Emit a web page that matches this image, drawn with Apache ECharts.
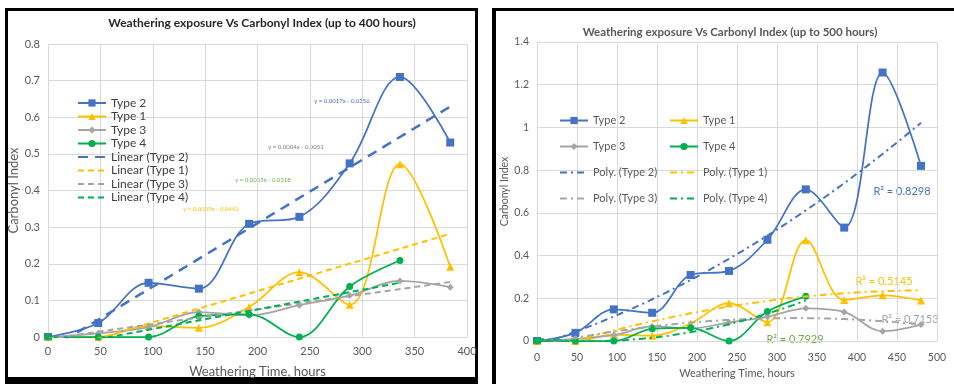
<!DOCTYPE html>
<html>
<head>
<meta charset="utf-8">
<script src="https://cdn.jsdelivr.net/npm/echarts@6/dist/echarts.min.js"></script>
<style>
  html, body { margin: 0; padding: 0; background: #fff; }
  #c { width: 954px; height: 384px; }
</style>
</head>
<body>
<div id="c"></div>
<script>
// Weathering time (hours) for each sample
const hours = [0, 48, 96, 144, 192, 240, 288, 336, 384, 432, 480];
// Carbonyl index per material type
const type2 = [0, 0.038, 0.148, 0.132, 0.309, 0.328, 0.474, 0.710, 0.531, 1.257, 0.820];
const type1 = [0, 0, 0.030, 0.025, 0.082, 0.177, 0.088, 0.472, 0.192, 0.214, 0.190];
const type3 = [0, 0.010, 0.027, 0.068, 0.059, 0.087, 0.113, 0.153, 0.136, 0.046, 0.077];
const type4 = [0, 0, 0, 0.057, 0.062, 0, 0.138, 0.209];

const titleShort = 'Weathering exposure Vs Carbonyl Index (up to 400 hours)';
const titleLong = 'Weathering exposure Vs Carbonyl Index (up to 500 hours)';
const xName = 'Weathering Time, hours';
const yName = 'Carbonyl Index';
const linearEq = ['y = 0.0017x - 0.0356', 'y = 0.0009x - 0.0441', 'y = 0.0004x - 0.0051', 'y = 0.0005x - 0.0318'];
const polyR2 = ['R\u00b2 = 0.8298', 'R\u00b2 = 0.5145', 'R\u00b2 = 0.7153', 'R\u00b2 = 0.7929'];

const shortCount = 9; // samples up to 384 h go into the first chart

const FONT = 'Lato, "Noto Sans", sans-serif';
const C2 = '#4472C4', C1 = '#FFC000', C3 = '#A5A5A5', C4 = '#00B050';

function pairs(ys, n) {
  return ys.slice(0, Math.min(n, ys.length)).map((y, i) => [hours[i], y]);
}

// least-squares straight line over the data range
function linearTrend(pts) {
  const n = pts.length;
  let mx = 0, my = 0;
  pts.forEach(p => { mx += p[0]; my += p[1]; });
  mx /= n; my /= n;
  let sxx = 0, sxy = 0;
  pts.forEach(p => { sxx += (p[0] - mx) ** 2; sxy += (p[0] - mx) * (p[1] - my); });
  const b = sxy / sxx, a = my - b * mx;
  const x0 = pts[0][0], x1 = pts[n - 1][0];
  return [[x0, a + b * x0], [x1, a + b * x1]];
}

// least-squares second order polynomial, sampled along the data range
function polyTrend(pts) {
  const S = [0, 0, 0, 0, 0], T = [0, 0, 0];
  pts.forEach(([x, y]) => {
    for (let k = 0; k < 5; k++) S[k] += x ** k;
    for (let k = 0; k < 3; k++) T[k] += y * x ** k;
  });
  const M = [[S[0], S[1], S[2], T[0]], [S[1], S[2], S[3], T[1]], [S[2], S[3], S[4], T[2]]];
  for (let i = 0; i < 3; i++) {
    for (let j = i + 1; j < 3; j++) {
      const f = M[j][i] / M[i][i];
      for (let k = i; k < 4; k++) M[j][k] -= f * M[i][k];
    }
  }
  const c = [0, 0, 0];
  for (let i = 2; i >= 0; i--) {
    let s = M[i][3];
    for (let k = i + 1; k < 3; k++) s -= M[i][k] * c[k];
    c[i] = s / M[i][i];
  }
  const x0 = pts[0][0], x1 = pts[pts.length - 1][0];
  const out = [];
  for (let x = x0; x <= x1 + 1e-9; x += 4) out.push([x, c[0] + c[1] * x + c[2] * x * x]);
  return out;
}

const types = [
  { name: 'Type 2', ys: type2, color: C2, symbol: 'rect', size: 8 },
  { name: 'Type 1', ys: type1, color: C1, symbol: 'triangle', size: 8 },
  { name: 'Type 3', ys: type3, color: C3, symbol: 'diamond', size: 7 },
  { name: 'Type 4', ys: type4, color: C4, symbol: 'circle', size: 7 }
];

const series = [];
types.forEach(t => {
  [0, 1].forEach(g => {
    series.push({
      name: t.name, type: 'line', xAxisIndex: g, yAxisIndex: g,
      data: pairs(t.ys, g === 0 ? shortCount : hours.length),
      smooth: 0.35, symbol: t.symbol, symbolSize: t.size, showSymbol: true,
      itemStyle: { color: t.color },
      lineStyle: { color: t.color, width: 1.75 }, z: 3
    });
  });
});
types.forEach((t, i) => {
  series.push({
    name: 'Linear (' + t.name + ')', type: 'line', xAxisIndex: 0, yAxisIndex: 0,
    data: linearTrend(pairs(t.ys, shortCount)), symbol: 'none', showSymbol: false,
    itemStyle: { color: t.color },
    lineStyle: { color: t.color, width: i === 0 ? 2.5 : 2, type: i === 0 ? [10, 7] : [6, 4] }, z: 4
  });
  series.push({
    name: 'Poly. (' + t.name + ')', type: 'line', xAxisIndex: 1, yAxisIndex: 1,
    data: polyTrend(pairs(t.ys, hours.length)), symbol: 'none', showSymbol: false,
    itemStyle: { color: t.color },
    lineStyle: { color: t.color, width: 2, type: [7, 4, 2, 4] }, z: 4
  });
});

const gridLine = { show: true, lineStyle: { color: '#d9d9d9', width: 1 } };
function xAxis(idx, max, fs, nameFs, gap, margin) {
  return {
    type: 'value', gridIndex: idx, min: 0, max: max, interval: 50,
    axisLine: { show: true, lineStyle: { color: '#d9d9d9' } }, axisTick: { show: false },
    axisLabel: { color: '#595959', fontSize: fs, fontFamily: FONT, margin: margin },
    splitLine: gridLine,
    name: xName, nameLocation: 'middle', nameGap: gap,
    nameTextStyle: { color: '#595959', fontSize: nameFs, fontFamily: FONT }
  };
}
function yAxis(idx, max, interval, fs, nameFs, gap) {
  return {
    type: 'value', gridIndex: idx, min: 0, max: max, interval: interval,
    axisLine: { show: false }, axisTick: { show: false },
    axisLabel: { color: '#595959', fontSize: fs, fontFamily: FONT, margin: 8 },
    splitLine: gridLine,
    name: yName, nameLocation: 'middle', nameRotate: 90, nameGap: gap,
    nameTextStyle: { color: '#595959', fontSize: nameFs, fontFamily: FONT }
  };
}

// trend-line legend entries show only the dashed stroke
const legendItems = names => names.map(n => (n.indexOf('(') >= 0 ? { name: n, itemStyle: { opacity: 0 } } : n));

const legendBase = {
  orient: 'vertical', itemWidth: 28, itemHeight: 9, padding: 0
};

const frame = (x, y, w, h) => ({ type: 'rect', shape: { x, y, width: w, height: h }, style: { fill: '#000' }, silent: true });
const note = (x, y, text, color, fs) => ({
  type: 'text', x, y, silent: true,
  style: { text, fill: color, fontSize: fs, fontFamily: FONT, align: 'center', verticalAlign: 'middle' }
});

const chart = echarts.init(document.getElementById('c'), null, { renderer: 'canvas' });
chart.setOption({
  animation: false,
  backgroundColor: '#fff',
  title: [
    { text: titleShort, left: 262, top: 17, textAlign: 'center', padding: 0,
      textStyle: { fontSize: 12, fontWeight: 'bold', color: '#262626', fontFamily: FONT } },
    { text: titleLong, left: 730, top: 26, textAlign: 'center', padding: 0,
      textStyle: { fontSize: 11.5, fontWeight: 'bold', color: '#595959', fontFamily: FONT } }
  ],
  grid: [
    { left: 48, top: 44, width: 419, height: 293 },
    { left: 537, top: 42, width: 400, height: 303 }
  ],
  xAxis: [xAxis(0, 400, 11, 13, 28, 9), xAxis(1, 500, 10.5, 11, 27, 11)],
  yAxis: [yAxis(0, 0.8, 0.1, 11, 13, 21), yAxis(1, 1.4, 0.2, 10.5, 10.5, 21)],
  legend: [
    Object.assign({}, legendBase, { left: 77, top: 97, itemGap: 1.5,
      textStyle: { fontFamily: FONT, fontSize: 12, color: '#404040' },
      data: legendItems(['Type 2', 'Type 1', 'Type 3', 'Type 4', 'Linear (Type 2)', 'Linear (Type 1)', 'Linear (Type 3)', 'Linear (Type 4)']) }),
    Object.assign({}, legendBase, { left: 559, top: 115, itemGap: 15,
      textStyle: { fontFamily: FONT, fontSize: 11, color: '#595959' },
      data: legendItems(['Type 2', 'Type 3', 'Poly. (Type 2)', 'Poly. (Type 3)']) }),
    Object.assign({}, legendBase, { left: 669, top: 115, itemGap: 15,
      textStyle: { fontFamily: FONT, fontSize: 11, color: '#595959' },
      data: legendItems(['Type 1', 'Type 4', 'Poly. (Type 1)', 'Poly. (Type 4)']) })
  ],
  series: series,
  graphic: [
    frame(5, 8, 473, 3), frame(5, 8, 3, 376), frame(475, 8, 3, 376), frame(5, 377, 473, 7),
    frame(492, 8, 462, 3), frame(492, 8, 4, 376),
    note(342, 101, linearEq[0], C2, 6),
    note(211, 209, linearEq[1], C1, 6),
    note(296, 147, linearEq[2], '#808080', 6),
    note(263, 180, linearEq[3], '#70AD47', 6),
    note(902, 191, polyR2[0], C2, 11),
    note(884, 281, polyR2[1], C1, 11),
    note(910, 319, polyR2[2], C3, 11),
    note(795, 339, polyR2[3], '#70AD47', 11)
  ]
});
</script>
</body>
</html>
